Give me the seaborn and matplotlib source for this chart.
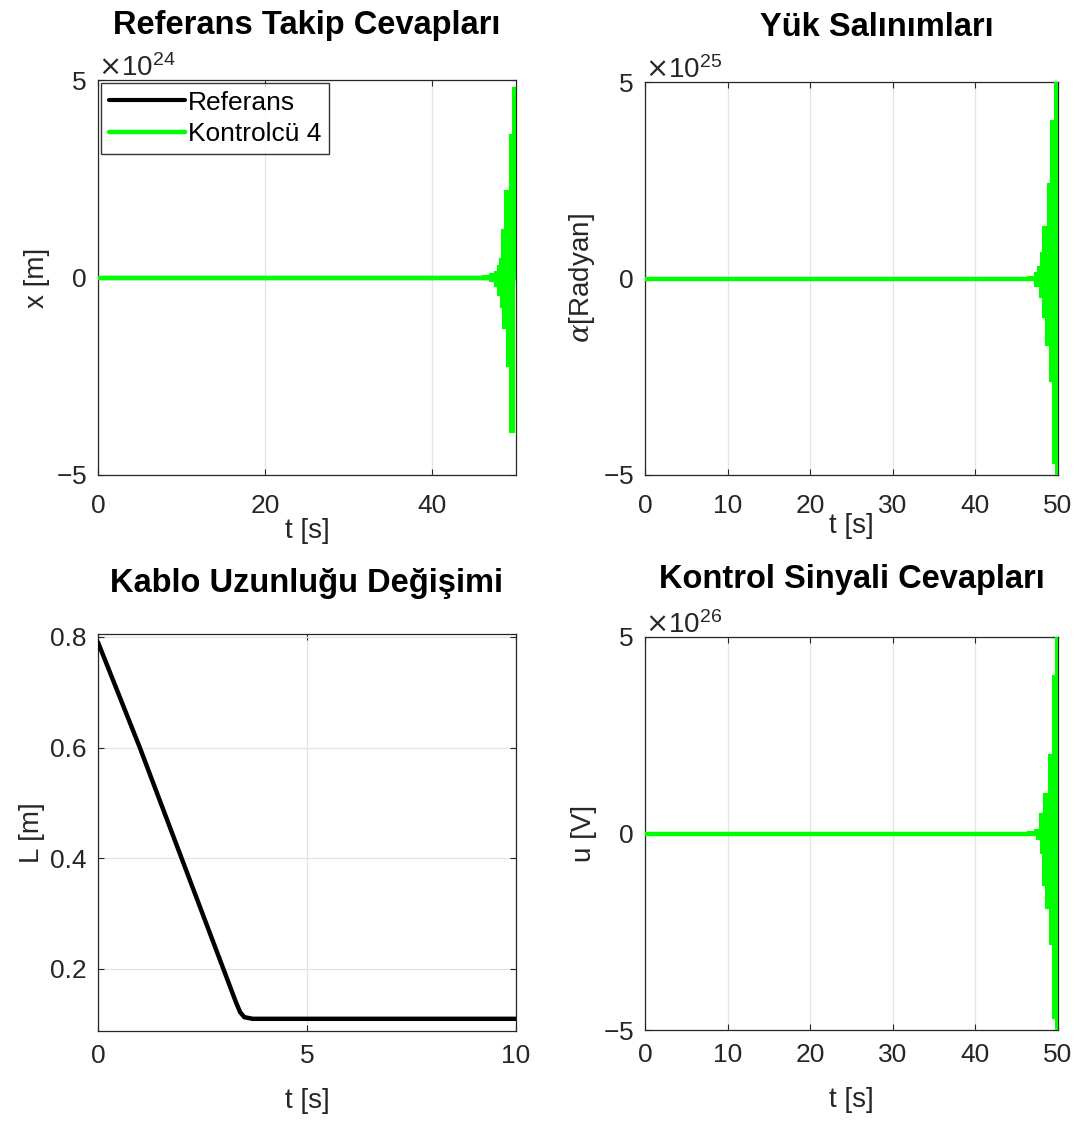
import numpy as np
import pandas as pd
import matplotlib
matplotlib.use("Agg")
import matplotlib.pyplot as plt
import seaborn as sns
from matplotlib.ticker import ScalarFormatter

# ---------------- data ----------------
# Referans Takip Cevaplari: envelope of the diverging oscillation (x1e24 m)
x_up_t = [0, 46.0, 46.9, 47.5, 47.8, 48.1, 48.3, 48.7, 49.3, 49.6, 50.0]
x_up_v = [0, 0.04, 0.08, 0.15, 0.30, 0.48, 1.2, 2.2, 3.6, 4.8, 4.8]
x_lo_t = [0, 46.0, 46.9, 47.5, 47.9, 48.2, 48.5, 48.9, 49.3, 49.75, 50.0]
x_lo_v = [0, -0.04, -0.10, -0.22, -0.45, -0.75, -1.28, -2.25, -3.9, 0.0, 0.0]
x_scale = 1e24

# Yuk Salinimlari (x1e25 rad)
a_up_t = [0, 46.4, 47.2, 47.6, 48.0, 48.2, 48.8, 49.2, 49.6, 50.0]
a_up_v = [0, 0.05, 0.15, 0.30, 0.64, 1.3, 2.4, 4.0, 5.0, 5.0]
a_lo_t = [0, 46.4, 47.2, 47.8, 48.2, 48.6, 49.0, 49.35, 49.75, 50.0]
a_lo_v = [0, -0.05, -0.20, -0.47, -0.97, -1.7, -2.6, -4.7, -5.0, -5.0]
a_scale = 1e25

# Kontrol Sinyali (x1e26 V)
u_up_t = [0, 46.4, 47.2, 47.8, 48.3, 48.9, 49.35, 49.7, 50.0]
u_up_v = [0, 0.03, 0.10, 0.5, 1.0, 2.0, 4.0, 5.0, 5.0]
u_lo_t = [0, 46.4, 47.4, 48.0, 48.2, 48.5, 49.0, 49.4, 49.7, 50.0]
u_lo_v = [0, -0.03, -0.15, -0.5, -1.3, -1.9, -2.8, -4.7, -5.0, -5.0]
u_scale = 1e26

# Reference trajectory (negligible at this scale)
ref_t = [0, 50]
ref_v = [0, 0]

# Kablo Uzunlugu Degisimi
L_t = [0, 1.0, 2.0, 3.0, 3.3, 3.4, 3.5, 3.7, 10.0]
L_v = [0.79, 0.60, 0.40, 0.20, 0.14, 0.122, 0.113, 0.11, 0.11]

titles = ["Referans Takip Cevapları", "Yük Salınımları",
          "Kablo Uzunluğu Değişimi", "Kontrol Sinyali Cevapları"]
ylabels = ["x [m]", r"$\alpha$[Radyan]", "L [m]", "u [V]"]
legend_labels = ["Referans", "Kontrolcü 4"]

# ---------------- style ----------------
sns.set_style("ticks")
plt.rcParams['font.family'] = ['Liberation Sans', 'DejaVu Sans']
plt.rcParams['mathtext.fontset'] = 'dejavuserif'
TXT = '#262626'
GREEN = '#00ff00'
plt.rcParams.update({
    'axes.edgecolor': TXT, 'axes.linewidth': 0.9,
    'axes.unicode_minus': False,
    'xtick.color': TXT, 'ytick.color': TXT,
    'xtick.labelcolor': TXT, 'ytick.labelcolor': TXT,
    'xtick.direction': 'in', 'ytick.direction': 'in',
    'xtick.major.size': 4, 'ytick.major.size': 4,
    'xtick.labelsize': 19, 'ytick.labelsize': 19,
})

fig = plt.figure(figsize=(10.84, 11.29), dpi=100)
W, H = 1084, 1129
def add_ax(l, r, t, b):
    return fig.add_axes([l / W, 1 - b / H, (r - l) / W, (b - t) / H])

ax_x = add_ax(98, 516, 80, 475)
ax_a = add_ax(645, 1058, 82, 475)
ax_L = add_ax(98, 516, 634, 1031)
ax_u = add_ax(645, 1058, 637, 1030)

def style(ax, xpad):
    ax.grid(True, color='#e3e3e3', linewidth=0.9)
    ax.set_axisbelow(True)
    ax.tick_params(top=True, right=True)
    ax.tick_params(axis='y', pad=8)
    ax.tick_params(axis='x', pad=xpad)
    for s in ax.spines.values():
        s.set_visible(True)
        s.set_color(TXT)

def band(ax, ut, uv, lt, lv, scale):
    ut = np.asarray(ut, float); uv = np.asarray(uv, float)
    lt = np.asarray(lt, float); lv = np.asarray(lv, float)
    tt = np.union1d(ut, lt)
    up = uv[np.searchsorted(ut, tt, side='right') - 1]
    lo = lv[np.searchsorted(lt, tt, side='right') - 1]
    # step ("post") outline: each level holds until the next sample time
    ts = np.repeat(tt, 2)[1:]
    ups = np.repeat(up, 2)[:-1]
    los = np.repeat(lo, 2)[:-1]
    poly_x = np.concatenate([ts, ts[::-1]])
    poly_y = np.concatenate([ups, los[::-1]]) * scale
    ax.fill(poly_x, poly_y, facecolor=GREEN, edgecolor=GREEN,
            linewidth=1.5, zorder=3)

def sci_axis(ax, scale):
    fmt = ScalarFormatter(useMathText=True)
    ax.yaxis.set_major_formatter(fmt)
    ax.set_yticks([-5 * scale, 0, 5 * scale])
    ax.set_ylim(-5 * scale, 5 * scale)
    ax.yaxis.get_offset_text().set_fontsize(20)
    ax.yaxis.get_offset_text().set_color(TXT)

# --- top-left ---
df_ref = pd.DataFrame({'t': ref_t, 'v': ref_v})
sns.lineplot(data=df_ref, x='t', y='v', ax=ax_x, color='black', lw=3,
             label=legend_labels[0], zorder=2)
df_x0 = pd.DataFrame({'t': x_up_t, 'v': np.zeros(len(x_up_t))})
sns.lineplot(data=df_x0, x='t', y='v', ax=ax_x, color=GREEN, lw=3.2,
             label=legend_labels[1], zorder=3)
band(ax_x, x_up_t, x_up_v, x_lo_t, x_lo_v, x_scale)
ax_x.set_xlim(0, 50)
ax_x.set_xticks([0, 20, 40])
sci_axis(ax_x, x_scale)
leg = ax_x.legend(loc='upper left', bbox_to_anchor=(0.0, 1.0), fontsize=19,
                  frameon=True, fancybox=False, edgecolor='black',
                  handlelength=2.9, handletextpad=0.1, borderpad=0.3,
                  labelspacing=0.3, borderaxespad=0.1)
leg.get_frame().set_linewidth(1.0)
for t in leg.get_texts():
    t.set_color('black')

# --- top-right ---
df_a0 = pd.DataFrame({'t': a_up_t, 'v': np.zeros(len(a_up_t))})
sns.lineplot(data=df_a0, x='t', y='v', ax=ax_a, color=GREEN, lw=3.2, zorder=3)
band(ax_a, a_up_t, a_up_v, a_lo_t, a_lo_v, a_scale)
ax_a.set_xlim(0, 50)
ax_a.set_xticks([0, 10, 20, 30, 40, 50])
sci_axis(ax_a, a_scale)

# --- bottom-left ---
df_L = pd.DataFrame({'t': L_t, 'v': L_v})
sns.lineplot(data=df_L, x='t', y='v', ax=ax_L, color='black', lw=3.2, zorder=3)
ax_L.set_xlim(0, 10)
ax_L.set_xticks([0, 5, 10])
ax_L.set_ylim(0.088, 0.805)
ax_L.set_yticks([0.2, 0.4, 0.6, 0.8])

# --- bottom-right ---
df_u0 = pd.DataFrame({'t': u_up_t, 'v': np.zeros(len(u_up_t))})
sns.lineplot(data=df_u0, x='t', y='v', ax=ax_u, color=GREEN, lw=3.2, zorder=3)
band(ax_u, u_up_t, u_up_v, u_lo_t, u_lo_v, u_scale)
ax_u.set_xlim(0, 50)
ax_u.set_xticks([0, 10, 20, 30, 40, 50])
sci_axis(ax_u, u_scale)

pads = [33, 33, 30, 35]
tickpads = [14, 14, 9.5, 9.5]
xpads = [0, -4, 14, 14]
title_x = [0.5, 0.562, 0.5, 0.5]
for ax, ttl, yl, p, tp, xp, tx in zip([ax_x, ax_a, ax_L, ax_u], titles, ylabels,
                                      pads, tickpads, xpads, title_x):
    style(ax, tp)
    ax.set_title(ttl, fontsize=23.5, fontweight='bold', color='black', pad=p, x=tx)
    ax.set_xlabel("t [s]", fontsize=20, color=TXT, labelpad=xp)
    ax.set_ylabel(yl, fontsize=20, color=TXT, labelpad=4)

fig.savefig("out.png", dpi=100)
